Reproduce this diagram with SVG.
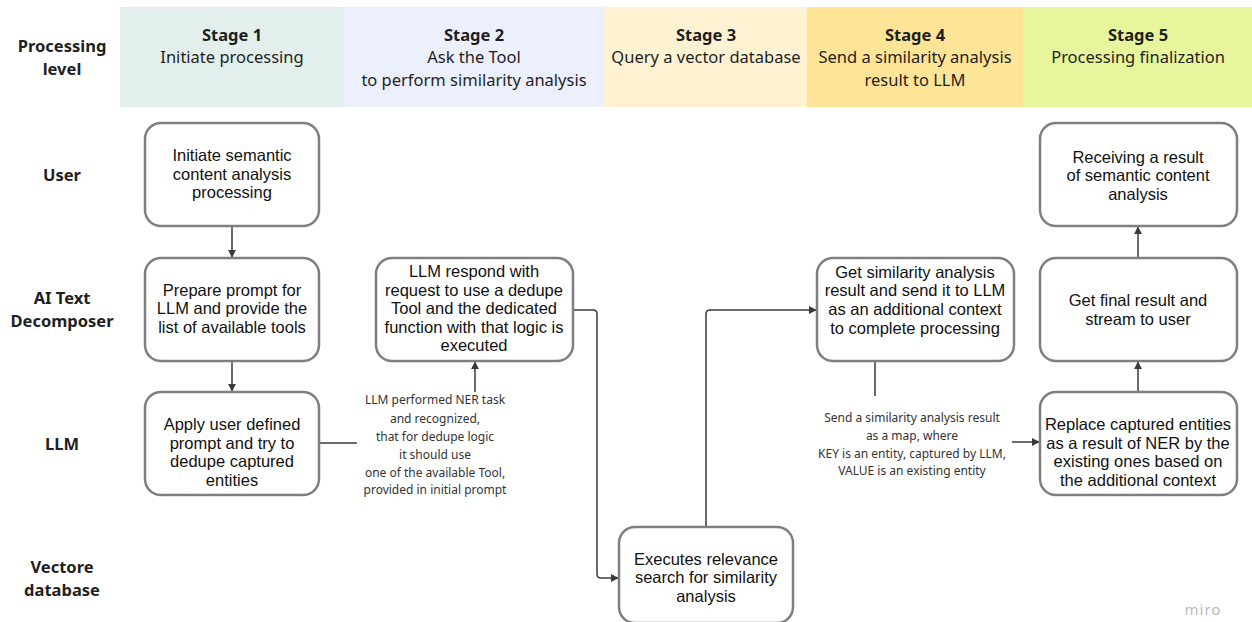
<svg xmlns="http://www.w3.org/2000/svg" width="1252" height="622" viewBox="0 0 1252 622">
  <style>
    .hdr { font-family: "Noto Sans", "Open Sans", sans-serif; font-size: 16.5px; fill: #1f1f1f; text-anchor: middle; }
    .hdr .b { font-weight: 700; }
    .row { font-family: "Noto Sans", "Open Sans", sans-serif; font-size: 16.5px; font-weight: 700; fill: #1f1f1f; text-anchor: middle; }
    .box { fill: #ffffff; stroke: #7f7f7f; stroke-width: 2.5; }
    .txt { font-family: "Liberation Sans", Arial, sans-serif; font-size: 16.5px; fill: #111111; text-anchor: middle; }
    .note { font-family: "Noto Sans", "Open Sans", sans-serif; font-size: 12px; fill: #333333; text-anchor: middle; }
    .link { fill: none; stroke: #3a3a3a; stroke-width: 1.5; stroke-linejoin: round; }
    .arrow { marker-end: url(#head); }
  </style>
  <defs>
    <marker id="head" viewBox="0 0 10 10" refX="9" refY="5" markerWidth="8" markerHeight="8" markerUnits="userSpaceOnUse" orient="auto">
      <path d="M0,0 L10,5 L0,10 z" fill="#3a3a3a"/>
    </marker>
  </defs>

  <rect width="1252" height="622" fill="#ffffff"/>

  <!-- stage header bands -->
  <g id="stages">
    <rect x="120" y="7" width="224" height="100" fill="#e3efec"/>
    <rect x="344" y="7" width="260" height="100" fill="#ecf0fd"/>
    <rect x="604" y="7" width="203" height="100" fill="#fef2d3"/>
    <rect x="807" y="7" width="216" height="100" fill="#fde496"/>
    <rect x="1023" y="7" width="229" height="100" fill="#e7f59d"/>
    <text class="hdr" x="232"><tspan class="b" x="232" y="41">Stage 1</tspan><tspan x="232" y="63">Initiate processing</tspan></text>
    <text class="hdr" x="474"><tspan class="b" x="474" y="41">Stage 2</tspan><tspan x="474" y="63">Ask the Tool</tspan><tspan x="474" y="86">to perform similarity analysis</tspan></text>
    <text class="hdr" x="706"><tspan class="b" x="706" y="41">Stage 3</tspan><tspan x="706" y="63">Query a vector database</tspan></text>
    <text class="hdr" x="915"><tspan class="b" x="915" y="41">Stage 4</tspan><tspan x="915" y="63">Send a similarity analysis</tspan><tspan x="915" y="86">result to LLM</tspan></text>
    <text class="hdr" x="1138"><tspan class="b" x="1138" y="41">Stage 5</tspan><tspan x="1138" y="63">Processing finalization</tspan></text>
  </g>

  <!-- lane labels -->
  <g id="lanes">
    <text class="row"><tspan x="62" y="52">Processing</tspan><tspan x="62" y="75">level</tspan></text>
    <text class="row" x="62" y="181">User</text>
    <text class="row"><tspan x="62" y="304">AI Text</tspan><tspan x="62" y="327">Decomposer</tspan></text>
    <text class="row" x="62" y="450">LLM</text>
    <text class="row"><tspan x="62" y="573">Vectore</tspan><tspan x="62" y="596">database</tspan></text>
  </g>

  <!-- connectors -->
  <g id="connectors">
    <path class="link arrow" d="M232,226 V257"/>
    <path class="link arrow" d="M232,361 V391"/>
    <path class="link" d="M319,443 H357"/>
    <path class="link arrow" d="M475,392 V362"/>
    <path class="link arrow" d="M573,310 H593 Q597,310 597,314 V574 Q597,578 601,578 H618"/>
    <path class="link arrow" d="M706,527 V314 Q706,310 710,310 H816"/>
    <path class="link" d="M875,361 V396"/>
    <path class="link arrow" d="M1012,442 H1039"/>
    <path class="link arrow" d="M1138,392 V362"/>
    <path class="link arrow" d="M1138,258 V227"/>
    <text class="note"><tspan x="435" y="404">LLM performed NER task</tspan><tspan x="435" y="423">and recognized,</tspan><tspan x="435" y="441">that for dedupe logic</tspan><tspan x="435" y="459">it should use</tspan><tspan x="435" y="477">one of the available Tool,</tspan><tspan x="435" y="494">provided in initial prompt</tspan></text>
    <text class="note"><tspan x="912" y="422">Send a similarity analysis result</tspan><tspan x="912" y="440">as a map, where</tspan><tspan x="912" y="458">KEY is an entity, captured by LLM,</tspan><tspan x="912" y="475">VALUE is an existing entity</tspan></text>
  </g>

  <!-- nodes -->
  <g id="n-initiate">
    <rect class="box" x="145" y="123" width="174" height="103" rx="16"/>
    <text class="txt"><tspan x="232" y="161">Initiate semantic</tspan><tspan x="232" y="180">content analysis</tspan><tspan x="232" y="198">processing</tspan></text>
  </g>
  <g id="n-prepare">
    <rect class="box" x="145" y="258" width="174" height="103" rx="16"/>
    <text class="txt"><tspan x="232" y="296">Prepare prompt for</tspan><tspan x="232" y="314">LLM and provide the</tspan><tspan x="232" y="333">list of available tools</tspan></text>
  </g>
  <g id="n-apply">
    <rect class="box" x="145" y="392" width="174" height="103" rx="16"/>
    <text class="txt"><tspan x="232" y="430">Apply user defined</tspan><tspan x="232" y="449">prompt and try to</tspan><tspan x="232" y="467">dedupe captured</tspan><tspan x="232" y="486">entities</tspan></text>
  </g>
  <g id="n-respond">
    <rect class="box" x="376" y="258" width="197" height="103" rx="16"/>
    <text class="txt"><tspan x="474" y="277">LLM respond with</tspan><tspan x="474" y="296">request to use a dedupe</tspan><tspan x="474" y="314">Tool and the dedicated</tspan><tspan x="474" y="333">function with that logic is</tspan><tspan x="474" y="351">executed</tspan></text>
  </g>
  <g id="n-search">
    <rect class="box" x="619" y="527" width="174" height="96" rx="16"/>
    <text class="txt"><tspan x="706" y="565">Executes relevance</tspan><tspan x="706" y="583">search for similarity</tspan><tspan x="706" y="602">analysis</tspan></text>
  </g>
  <g id="n-context">
    <rect class="box" x="817" y="258" width="197" height="103" rx="16"/>
    <text class="txt"><tspan x="915" y="278">Get similarity analysis</tspan><tspan x="915" y="296">result and send it to LLM</tspan><tspan x="915" y="315">as an additional context</tspan><tspan x="915" y="334">to complete processing</tspan></text>
  </g>
  <g id="n-replace">
    <rect class="box" x="1040" y="392" width="197" height="103" rx="16"/>
    <text class="txt"><tspan x="1138" y="430">Replace captured entities</tspan><tspan x="1138" y="449">as a result of NER by the</tspan><tspan x="1138" y="467">existing ones based on</tspan><tspan x="1138" y="486">the additional context</tspan></text>
  </g>
  <g id="n-final">
    <rect class="box" x="1040" y="258" width="197" height="103" rx="16"/>
    <text class="txt"><tspan x="1138" y="306">Get final result and</tspan><tspan x="1138" y="325">stream to user</tspan></text>
  </g>
  <g id="n-receive">
    <rect class="box" x="1040" y="123" width="197" height="103" rx="16"/>
    <text class="txt"><tspan x="1138" y="163">Receiving a result</tspan><tspan x="1138" y="181">of semantic content</tspan><tspan x="1138" y="200">analysis</tspan></text>
  </g>

  <text x="1203" y="615" font-family="Noto Sans, Open Sans, sans-serif" font-size="15" fill="#b9b9c6" text-anchor="middle" letter-spacing="1">miro</text>
</svg>
